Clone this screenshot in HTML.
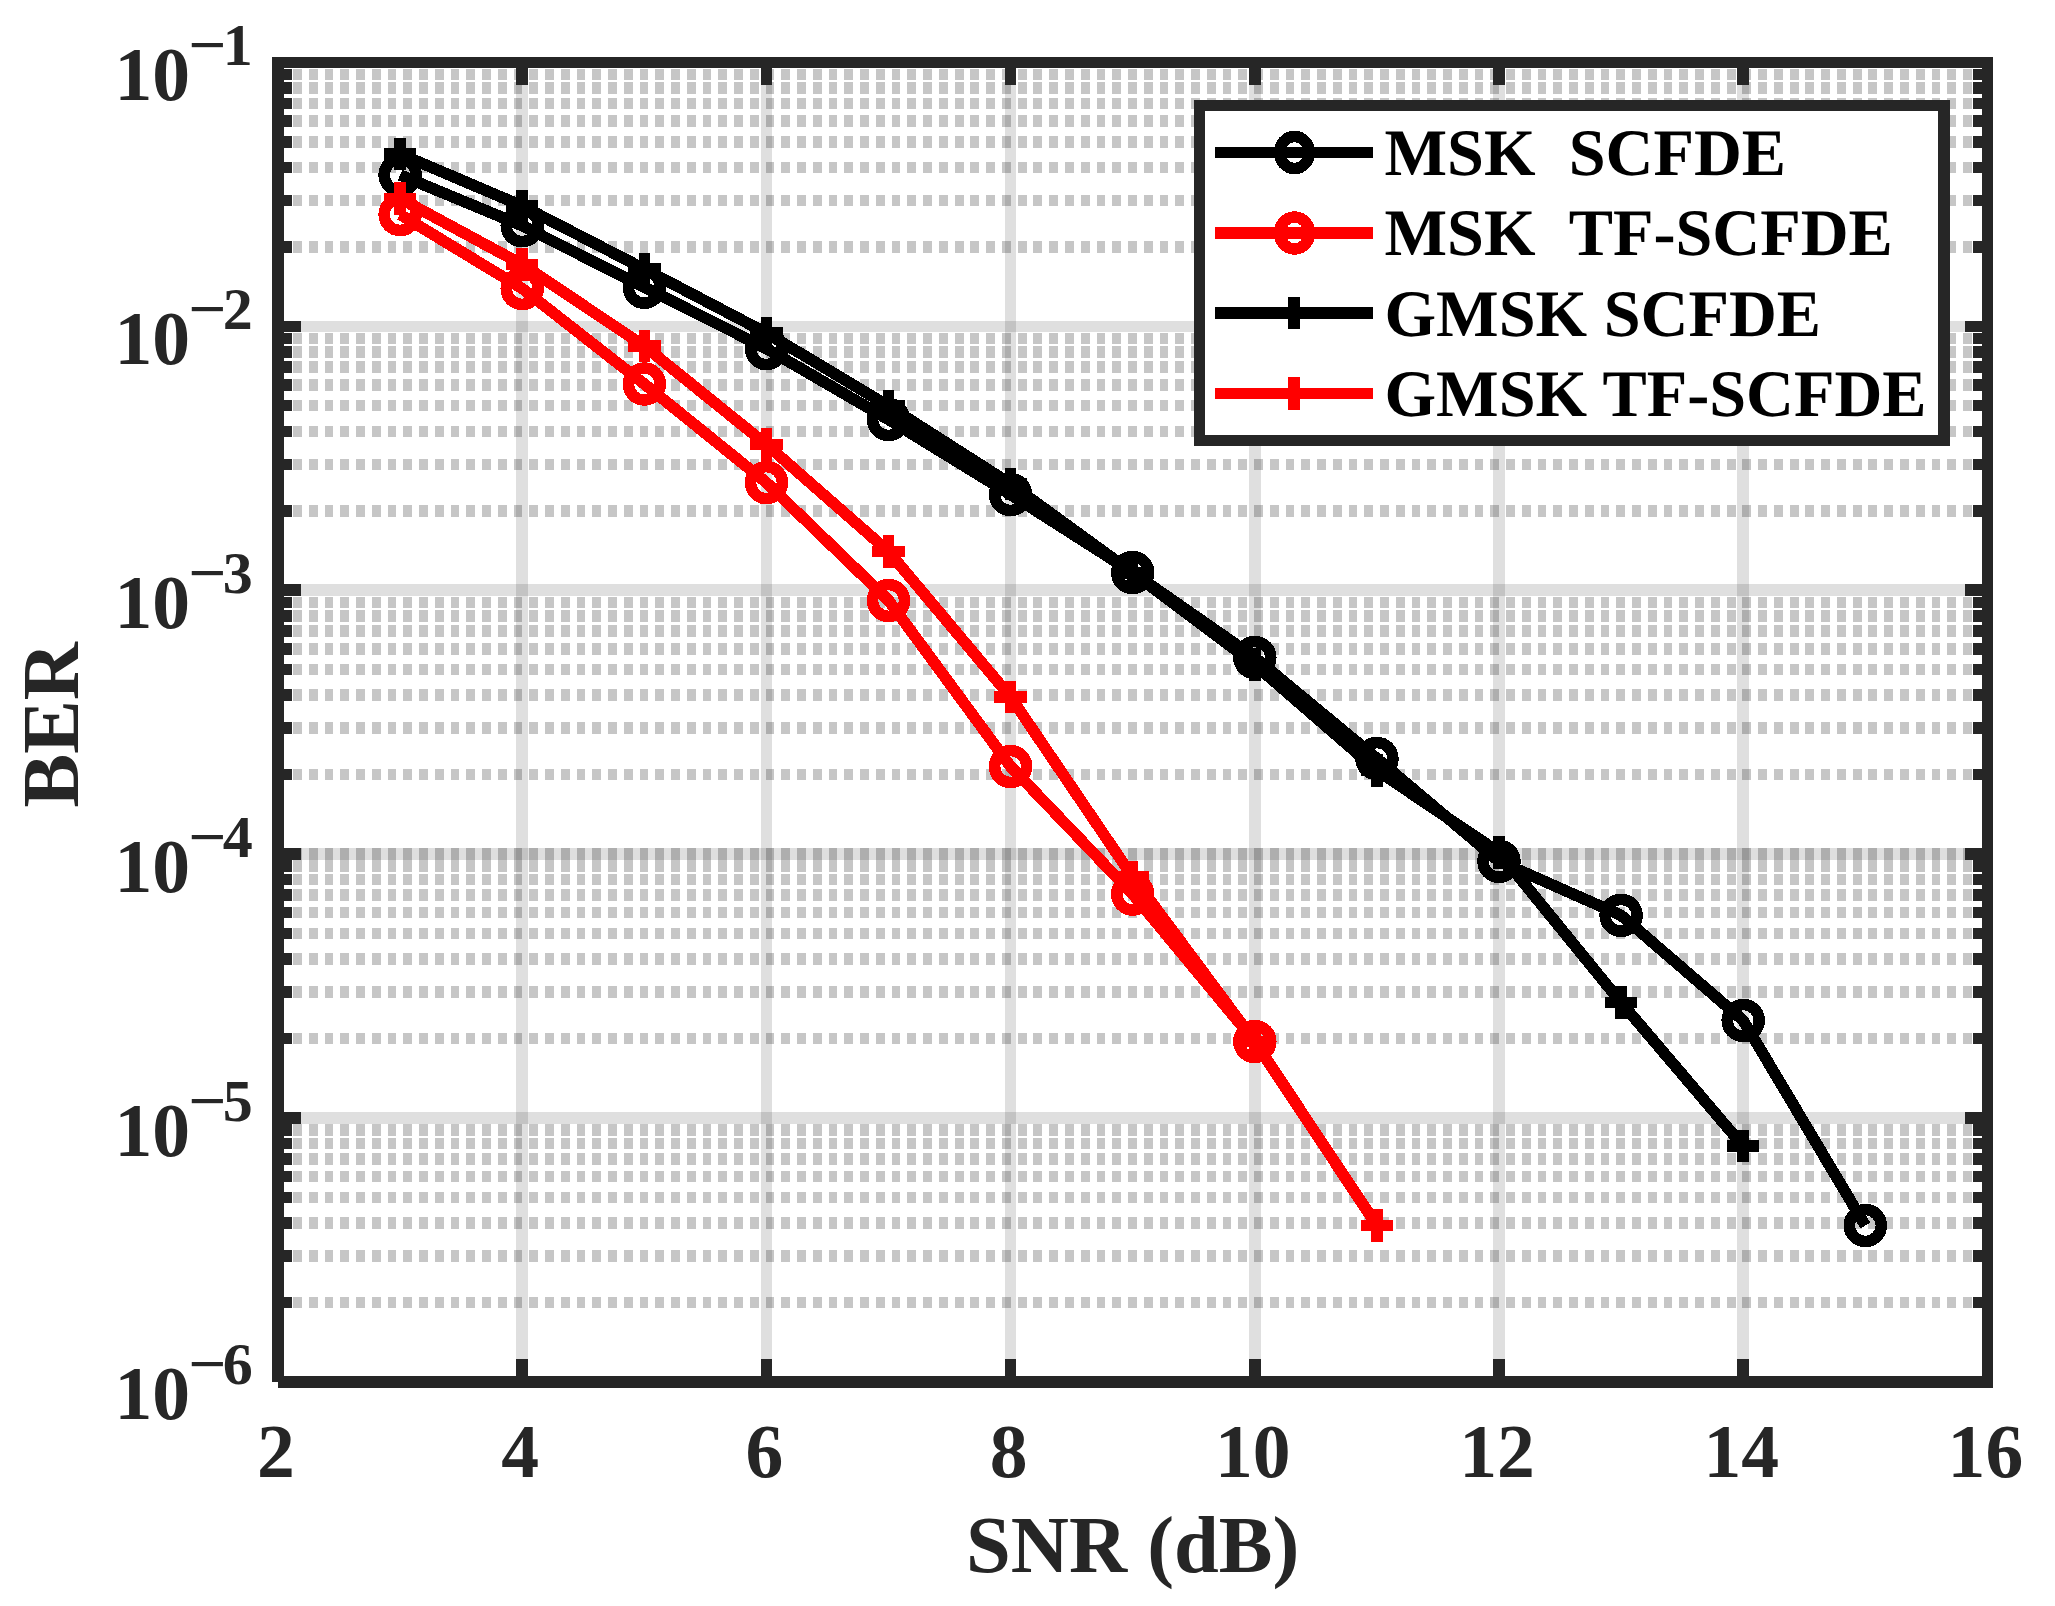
<!DOCTYPE html>
<html lang="en"><head><meta charset="utf-8"><title>BER vs SNR</title>
<style>html,body{margin:0;padding:0;background:#fff;overflow:hidden}svg{display:block}text{font-family:"Liberation Serif",serif;font-weight:bold}.tk{fill:#262626;font-size:75.6px}.ex{fill:#262626;font-size:60px}.lb{fill:#262626;font-size:80.5px}.lg{fill:#000;font-size:66.3px}</style></head><body>
<svg width="2055" height="1606" viewBox="0 0 2055 1606" shape-rendering="crispEdges">
<rect x="0" y="0" width="2055" height="1606" fill="#fff"/>
<g stroke="rgb(38,38,38)" stroke-opacity="0.15" stroke-width="11.5" fill="none">
<line x1="522.16" y1="62.4" x2="522.16" y2="1381.9"/>
<line x1="766.37" y1="62.4" x2="766.37" y2="1381.9"/>
<line x1="1010.58" y1="62.4" x2="1010.58" y2="1381.9"/>
<line x1="1254.79" y1="62.4" x2="1254.79" y2="1381.9"/>
<line x1="1499.00" y1="62.4" x2="1499.00" y2="1381.9"/>
<line x1="1743.21" y1="62.4" x2="1743.21" y2="1381.9"/>
<line x1="277.95" y1="1118.00" x2="1987.42" y2="1118.00"/>
<line x1="277.95" y1="854.10" x2="1987.42" y2="854.10"/>
<line x1="277.95" y1="590.20" x2="1987.42" y2="590.20"/>
<line x1="277.95" y1="326.30" x2="1987.42" y2="326.30"/>
</g>
<g stroke="rgb(26,26,26)" stroke-opacity="0.25" stroke-width="11.5" fill="none" stroke-dasharray="8.8 6.955" stroke-dashoffset="-15.050">
<line x1="277.95" y1="1302.46" x2="1987.42" y2="1302.46"/>
<line x1="277.95" y1="1255.99" x2="1987.42" y2="1255.99"/>
<line x1="277.95" y1="1223.02" x2="1987.42" y2="1223.02"/>
<line x1="277.95" y1="1197.44" x2="1987.42" y2="1197.44"/>
<line x1="277.95" y1="1176.55" x2="1987.42" y2="1176.55"/>
<line x1="277.95" y1="1158.88" x2="1987.42" y2="1158.88"/>
<line x1="277.95" y1="1143.57" x2="1987.42" y2="1143.57"/>
<line x1="277.95" y1="1130.08" x2="1987.42" y2="1130.08"/>
<line x1="277.95" y1="1038.56" x2="1987.42" y2="1038.56"/>
<line x1="277.95" y1="992.09" x2="1987.42" y2="992.09"/>
<line x1="277.95" y1="959.12" x2="1987.42" y2="959.12"/>
<line x1="277.95" y1="933.54" x2="1987.42" y2="933.54"/>
<line x1="277.95" y1="912.65" x2="1987.42" y2="912.65"/>
<line x1="277.95" y1="894.98" x2="1987.42" y2="894.98"/>
<line x1="277.95" y1="879.67" x2="1987.42" y2="879.67"/>
<line x1="277.95" y1="866.18" x2="1987.42" y2="866.18"/>
<line x1="277.95" y1="774.66" x2="1987.42" y2="774.66"/>
<line x1="277.95" y1="728.19" x2="1987.42" y2="728.19"/>
<line x1="277.95" y1="695.22" x2="1987.42" y2="695.22"/>
<line x1="277.95" y1="669.64" x2="1987.42" y2="669.64"/>
<line x1="277.95" y1="648.75" x2="1987.42" y2="648.75"/>
<line x1="277.95" y1="631.08" x2="1987.42" y2="631.08"/>
<line x1="277.95" y1="615.77" x2="1987.42" y2="615.77"/>
<line x1="277.95" y1="602.28" x2="1987.42" y2="602.28"/>
<line x1="277.95" y1="510.76" x2="1987.42" y2="510.76"/>
<line x1="277.95" y1="464.29" x2="1987.42" y2="464.29"/>
<line x1="277.95" y1="431.32" x2="1987.42" y2="431.32"/>
<line x1="277.95" y1="405.74" x2="1987.42" y2="405.74"/>
<line x1="277.95" y1="384.85" x2="1987.42" y2="384.85"/>
<line x1="277.95" y1="367.18" x2="1987.42" y2="367.18"/>
<line x1="277.95" y1="351.87" x2="1987.42" y2="351.87"/>
<line x1="277.95" y1="338.38" x2="1987.42" y2="338.38"/>
<line x1="277.95" y1="246.86" x2="1987.42" y2="246.86"/>
<line x1="277.95" y1="200.39" x2="1987.42" y2="200.39"/>
<line x1="277.95" y1="167.42" x2="1987.42" y2="167.42"/>
<line x1="277.95" y1="141.84" x2="1987.42" y2="141.84"/>
<line x1="277.95" y1="120.95" x2="1987.42" y2="120.95"/>
<line x1="277.95" y1="103.28" x2="1987.42" y2="103.28"/>
<line x1="277.95" y1="87.97" x2="1987.42" y2="87.97"/>
<line x1="277.95" y1="74.48" x2="1987.42" y2="74.48"/>
<line x1="277.95" y1="854.10" x2="1987.42" y2="854.10"/>
</g>
<g stroke="#262626" stroke-width="11.5" fill="none">
<line x1="522.16" y1="1381.9" x2="522.16" y2="1359.15"/>
<line x1="522.16" y1="62.4" x2="522.16" y2="85.15"/>
<line x1="766.37" y1="1381.9" x2="766.37" y2="1359.15"/>
<line x1="766.37" y1="62.4" x2="766.37" y2="85.15"/>
<line x1="1010.58" y1="1381.9" x2="1010.58" y2="1359.15"/>
<line x1="1010.58" y1="62.4" x2="1010.58" y2="85.15"/>
<line x1="1254.79" y1="1381.9" x2="1254.79" y2="1359.15"/>
<line x1="1254.79" y1="62.4" x2="1254.79" y2="85.15"/>
<line x1="1499.00" y1="1381.9" x2="1499.00" y2="1359.15"/>
<line x1="1499.00" y1="62.4" x2="1499.00" y2="85.15"/>
<line x1="1743.21" y1="1381.9" x2="1743.21" y2="1359.15"/>
<line x1="1743.21" y1="62.4" x2="1743.21" y2="85.15"/>
<line x1="277.95" y1="1118.00" x2="300.70" y2="1118.00"/>
<line x1="1987.42" y1="1118.00" x2="1964.67" y2="1118.00"/>
<line x1="277.95" y1="854.10" x2="300.70" y2="854.10"/>
<line x1="1987.42" y1="854.10" x2="1964.67" y2="854.10"/>
<line x1="277.95" y1="590.20" x2="300.70" y2="590.20"/>
<line x1="1987.42" y1="590.20" x2="1964.67" y2="590.20"/>
<line x1="277.95" y1="326.30" x2="300.70" y2="326.30"/>
<line x1="1987.42" y1="326.30" x2="1964.67" y2="326.30"/>
<line x1="277.95" y1="1302.46" x2="292.20" y2="1302.46"/>
<line x1="1987.42" y1="1302.46" x2="1973.17" y2="1302.46"/>
<line x1="277.95" y1="1255.99" x2="292.20" y2="1255.99"/>
<line x1="1987.42" y1="1255.99" x2="1973.17" y2="1255.99"/>
<line x1="277.95" y1="1223.02" x2="292.20" y2="1223.02"/>
<line x1="1987.42" y1="1223.02" x2="1973.17" y2="1223.02"/>
<line x1="277.95" y1="1197.44" x2="292.20" y2="1197.44"/>
<line x1="1987.42" y1="1197.44" x2="1973.17" y2="1197.44"/>
<line x1="277.95" y1="1176.55" x2="292.20" y2="1176.55"/>
<line x1="1987.42" y1="1176.55" x2="1973.17" y2="1176.55"/>
<line x1="277.95" y1="1158.88" x2="292.20" y2="1158.88"/>
<line x1="1987.42" y1="1158.88" x2="1973.17" y2="1158.88"/>
<line x1="277.95" y1="1143.57" x2="292.20" y2="1143.57"/>
<line x1="1987.42" y1="1143.57" x2="1973.17" y2="1143.57"/>
<line x1="277.95" y1="1130.08" x2="292.20" y2="1130.08"/>
<line x1="1987.42" y1="1130.08" x2="1973.17" y2="1130.08"/>
<line x1="277.95" y1="1038.56" x2="292.20" y2="1038.56"/>
<line x1="1987.42" y1="1038.56" x2="1973.17" y2="1038.56"/>
<line x1="277.95" y1="992.09" x2="292.20" y2="992.09"/>
<line x1="1987.42" y1="992.09" x2="1973.17" y2="992.09"/>
<line x1="277.95" y1="959.12" x2="292.20" y2="959.12"/>
<line x1="1987.42" y1="959.12" x2="1973.17" y2="959.12"/>
<line x1="277.95" y1="933.54" x2="292.20" y2="933.54"/>
<line x1="1987.42" y1="933.54" x2="1973.17" y2="933.54"/>
<line x1="277.95" y1="912.65" x2="292.20" y2="912.65"/>
<line x1="1987.42" y1="912.65" x2="1973.17" y2="912.65"/>
<line x1="277.95" y1="894.98" x2="292.20" y2="894.98"/>
<line x1="1987.42" y1="894.98" x2="1973.17" y2="894.98"/>
<line x1="277.95" y1="879.67" x2="292.20" y2="879.67"/>
<line x1="1987.42" y1="879.67" x2="1973.17" y2="879.67"/>
<line x1="277.95" y1="866.18" x2="292.20" y2="866.18"/>
<line x1="1987.42" y1="866.18" x2="1973.17" y2="866.18"/>
<line x1="277.95" y1="774.66" x2="292.20" y2="774.66"/>
<line x1="1987.42" y1="774.66" x2="1973.17" y2="774.66"/>
<line x1="277.95" y1="728.19" x2="292.20" y2="728.19"/>
<line x1="1987.42" y1="728.19" x2="1973.17" y2="728.19"/>
<line x1="277.95" y1="695.22" x2="292.20" y2="695.22"/>
<line x1="1987.42" y1="695.22" x2="1973.17" y2="695.22"/>
<line x1="277.95" y1="669.64" x2="292.20" y2="669.64"/>
<line x1="1987.42" y1="669.64" x2="1973.17" y2="669.64"/>
<line x1="277.95" y1="648.75" x2="292.20" y2="648.75"/>
<line x1="1987.42" y1="648.75" x2="1973.17" y2="648.75"/>
<line x1="277.95" y1="631.08" x2="292.20" y2="631.08"/>
<line x1="1987.42" y1="631.08" x2="1973.17" y2="631.08"/>
<line x1="277.95" y1="615.77" x2="292.20" y2="615.77"/>
<line x1="1987.42" y1="615.77" x2="1973.17" y2="615.77"/>
<line x1="277.95" y1="602.28" x2="292.20" y2="602.28"/>
<line x1="1987.42" y1="602.28" x2="1973.17" y2="602.28"/>
<line x1="277.95" y1="510.76" x2="292.20" y2="510.76"/>
<line x1="1987.42" y1="510.76" x2="1973.17" y2="510.76"/>
<line x1="277.95" y1="464.29" x2="292.20" y2="464.29"/>
<line x1="1987.42" y1="464.29" x2="1973.17" y2="464.29"/>
<line x1="277.95" y1="431.32" x2="292.20" y2="431.32"/>
<line x1="1987.42" y1="431.32" x2="1973.17" y2="431.32"/>
<line x1="277.95" y1="405.74" x2="292.20" y2="405.74"/>
<line x1="1987.42" y1="405.74" x2="1973.17" y2="405.74"/>
<line x1="277.95" y1="384.85" x2="292.20" y2="384.85"/>
<line x1="1987.42" y1="384.85" x2="1973.17" y2="384.85"/>
<line x1="277.95" y1="367.18" x2="292.20" y2="367.18"/>
<line x1="1987.42" y1="367.18" x2="1973.17" y2="367.18"/>
<line x1="277.95" y1="351.87" x2="292.20" y2="351.87"/>
<line x1="1987.42" y1="351.87" x2="1973.17" y2="351.87"/>
<line x1="277.95" y1="338.38" x2="292.20" y2="338.38"/>
<line x1="1987.42" y1="338.38" x2="1973.17" y2="338.38"/>
<line x1="277.95" y1="246.86" x2="292.20" y2="246.86"/>
<line x1="1987.42" y1="246.86" x2="1973.17" y2="246.86"/>
<line x1="277.95" y1="200.39" x2="292.20" y2="200.39"/>
<line x1="1987.42" y1="200.39" x2="1973.17" y2="200.39"/>
<line x1="277.95" y1="167.42" x2="292.20" y2="167.42"/>
<line x1="1987.42" y1="167.42" x2="1973.17" y2="167.42"/>
<line x1="277.95" y1="141.84" x2="292.20" y2="141.84"/>
<line x1="1987.42" y1="141.84" x2="1973.17" y2="141.84"/>
<line x1="277.95" y1="120.95" x2="292.20" y2="120.95"/>
<line x1="1987.42" y1="120.95" x2="1973.17" y2="120.95"/>
<line x1="277.95" y1="103.28" x2="292.20" y2="103.28"/>
<line x1="1987.42" y1="103.28" x2="1973.17" y2="103.28"/>
<line x1="277.95" y1="87.97" x2="292.20" y2="87.97"/>
<line x1="1987.42" y1="87.97" x2="1973.17" y2="87.97"/>
<line x1="277.95" y1="74.48" x2="292.20" y2="74.48"/>
<line x1="1987.42" y1="74.48" x2="1973.17" y2="74.48"/>
<path d="M277.95 1381.9 H1987.42 V62.4 H277.95 V1381.9" stroke-linejoin="miter" stroke-linecap="butt"/>
</g>
<g stroke="#000" stroke-width="11.5" fill="none">
<polyline stroke-linejoin="round" points="400.1,175.0 522.2,225.7 644.3,287.2 766.4,348.6 888.5,419.5 1010.6,494.5 1132.7,572.5 1254.8,657.5 1376.9,758.5 1499.0,861.3 1621.1,915.3 1743.2,1020.5 1865.3,1225.5"/>
<circle cx="400.1" cy="175.0" r="16"/>
<circle cx="522.2" cy="225.7" r="16"/>
<circle cx="644.3" cy="287.2" r="16"/>
<circle cx="766.4" cy="348.6" r="16"/>
<circle cx="888.5" cy="419.5" r="16"/>
<circle cx="1010.6" cy="494.5" r="16"/>
<circle cx="1132.7" cy="572.5" r="16"/>
<circle cx="1254.8" cy="657.5" r="16"/>
<circle cx="1376.9" cy="758.5" r="16"/>
<circle cx="1499.0" cy="861.3" r="16"/>
<circle cx="1621.1" cy="915.3" r="16"/>
<circle cx="1743.2" cy="1020.5" r="16"/>
<circle cx="1865.3" cy="1225.5" r="16"/>
</g>
<g stroke="#f00" stroke-width="11.5" fill="none">
<polyline stroke-linejoin="round" points="400.1,214.5 522.2,288.5 644.3,384.0 766.4,482.6 888.5,600.4 1010.6,766.5 1132.7,894.1 1254.8,1041.5"/>
<circle cx="400.1" cy="214.5" r="16"/>
<circle cx="522.2" cy="288.5" r="16"/>
<circle cx="644.3" cy="384.0" r="16"/>
<circle cx="766.4" cy="482.6" r="16"/>
<circle cx="888.5" cy="600.4" r="16"/>
<circle cx="1010.6" cy="766.5" r="16"/>
<circle cx="1132.7" cy="894.1" r="16"/>
<circle cx="1254.8" cy="1041.5" r="16"/>
</g>
<g stroke="#000" stroke-width="11.5" fill="none">
<polyline stroke-linejoin="round" points="400.1,154.0 522.2,206.0 644.3,269.0 766.4,333.0 888.5,406.0 1010.6,484.0 1132.7,572.8 1254.8,664.5 1376.9,770.3 1499.0,852.5 1621.1,1002.5 1743.2,1146.0"/>
<path d="M383.81 154.0h32.5M400.1 137.75v32.5"/>
<path d="M505.91 206.0h32.5M522.2 189.75v32.5"/>
<path d="M628.01 269.0h32.5M644.3 252.75v32.5"/>
<path d="M750.12 333.0h32.5M766.4 316.75v32.5"/>
<path d="M872.22 406.0h32.5M888.5 389.75v32.5"/>
<path d="M994.33 484.0h32.5M1010.6 467.75v32.5"/>
<path d="M1116.43 572.8h32.5M1132.7 556.55v32.5"/>
<path d="M1238.54 664.5h32.5M1254.8 648.25v32.5"/>
<path d="M1360.64 770.3h32.5M1376.9 754.05v32.5"/>
<path d="M1482.75 852.5h32.5M1499.0 836.25v32.5"/>
<path d="M1604.86 1002.5h32.5M1621.1 986.25v32.5"/>
<path d="M1726.96 1146.0h32.5M1743.2 1129.75v32.5"/>
</g>
<g stroke="#f00" stroke-width="11.5" fill="none">
<polyline stroke-linejoin="round" points="400.1,198.5 522.2,264.5 644.3,346.0 766.4,444.5 888.5,551.5 1010.6,697.0 1132.7,877.0 1254.8,1041.5 1376.9,1225.5"/>
<path d="M383.81 198.5h32.5M400.1 182.25v32.5"/>
<path d="M505.91 264.5h32.5M522.2 248.25v32.5"/>
<path d="M628.01 346.0h32.5M644.3 329.75v32.5"/>
<path d="M750.12 444.5h32.5M766.4 428.25v32.5"/>
<path d="M872.22 551.5h32.5M888.5 535.25v32.5"/>
<path d="M994.33 697.0h32.5M1010.6 680.75v32.5"/>
<path d="M1116.43 877.0h32.5M1132.7 860.75v32.5"/>
<path d="M1238.54 1041.5h32.5M1254.8 1025.25v32.5"/>
<path d="M1360.64 1225.5h32.5M1376.9 1209.25v32.5"/>
</g>
<rect x="1199.5" y="105.5" width="744.5" height="335" fill="#fff" stroke="#262626" stroke-width="11.5"/>
<g stroke="#000" stroke-width="11.5" fill="none">
<line x1="1215" y1="152.5" x2="1373" y2="152.5"/>
<ellipse cx="1294.5" cy="152.5" rx="15" ry="16"/>
</g>
<text class="lg" x="1384.5" y="175" text-rendering="geometricPrecision">MSK  SCFDE</text>
<g stroke="#f00" stroke-width="11.5" fill="none">
<line x1="1215" y1="233" x2="1373" y2="233"/>
<ellipse cx="1294.5" cy="233" rx="15" ry="16"/>
</g>
<text class="lg" x="1384.5" y="255.3" text-rendering="geometricPrecision">MSK  TF-SCFDE</text>
<g stroke="#000" stroke-width="11.5" fill="none">
<line x1="1215" y1="313" x2="1373" y2="313"/>
<path d="M1294 297v32"/>
</g>
<text class="lg" x="1384.5" y="335.6" text-rendering="geometricPrecision">GMSK SCFDE</text>
<g stroke="#f00" stroke-width="11.5" fill="none">
<line x1="1215" y1="393.5" x2="1373" y2="393.5"/>
<path d="M1294 377.0v33.0"/>
</g>
<text class="lg" x="1384.5" y="416" text-rendering="geometricPrecision">GMSK TF-SCFDE</text>
<text class="tk" x="275.9" y="1476.7" text-anchor="middle">2</text>
<text class="tk" x="520.2" y="1476.7" text-anchor="middle">4</text>
<text class="tk" x="764.4" y="1476.7" text-anchor="middle">6</text>
<text class="tk" x="1008.6" y="1476.7" text-anchor="middle">8</text>
<text class="tk" x="1252.8" y="1476.7" text-anchor="middle">10</text>
<text class="tk" x="1497.0" y="1476.7" text-anchor="middle">12</text>
<text class="tk" x="1741.2" y="1476.7" text-anchor="middle">14</text>
<text class="tk" x="1985.4" y="1476.7" text-anchor="middle">16</text>
<text class="tk" x="190" y="1419.4" text-anchor="end">10</text>
<text class="ex" transform="translate(188.3 1384.4) scale(1.117 1)">−</text>
<text class="ex" x="222.7" y="1384.4">6</text>
<text class="tk" x="190" y="1155.5" text-anchor="end">10</text>
<text class="ex" transform="translate(188.3 1120.5) scale(1.117 1)">−</text>
<text class="ex" x="222.7" y="1120.5">5</text>
<text class="tk" x="190" y="891.6" text-anchor="end">10</text>
<text class="ex" transform="translate(188.3 856.6) scale(1.117 1)">−</text>
<text class="ex" x="222.7" y="856.6">4</text>
<text class="tk" x="190" y="627.7" text-anchor="end">10</text>
<text class="ex" transform="translate(188.3 592.7) scale(1.117 1)">−</text>
<text class="ex" x="222.7" y="592.7">3</text>
<text class="tk" x="190" y="363.8" text-anchor="end">10</text>
<text class="ex" transform="translate(188.3 328.8) scale(1.117 1)">−</text>
<text class="ex" x="222.7" y="328.8">2</text>
<text class="tk" x="190" y="99.9" text-anchor="end">10</text>
<text class="ex" transform="translate(188.3 64.9) scale(1.117 1)">−</text>
<text class="ex" x="222.7" y="64.9">1</text>
<text class="lb" x="1132.7" y="1572.4" text-anchor="middle">SNR (dB)</text>
<text class="lb" transform="translate(78 724.8) rotate(-90)" text-anchor="middle">BER</text>
</svg></body></html>
